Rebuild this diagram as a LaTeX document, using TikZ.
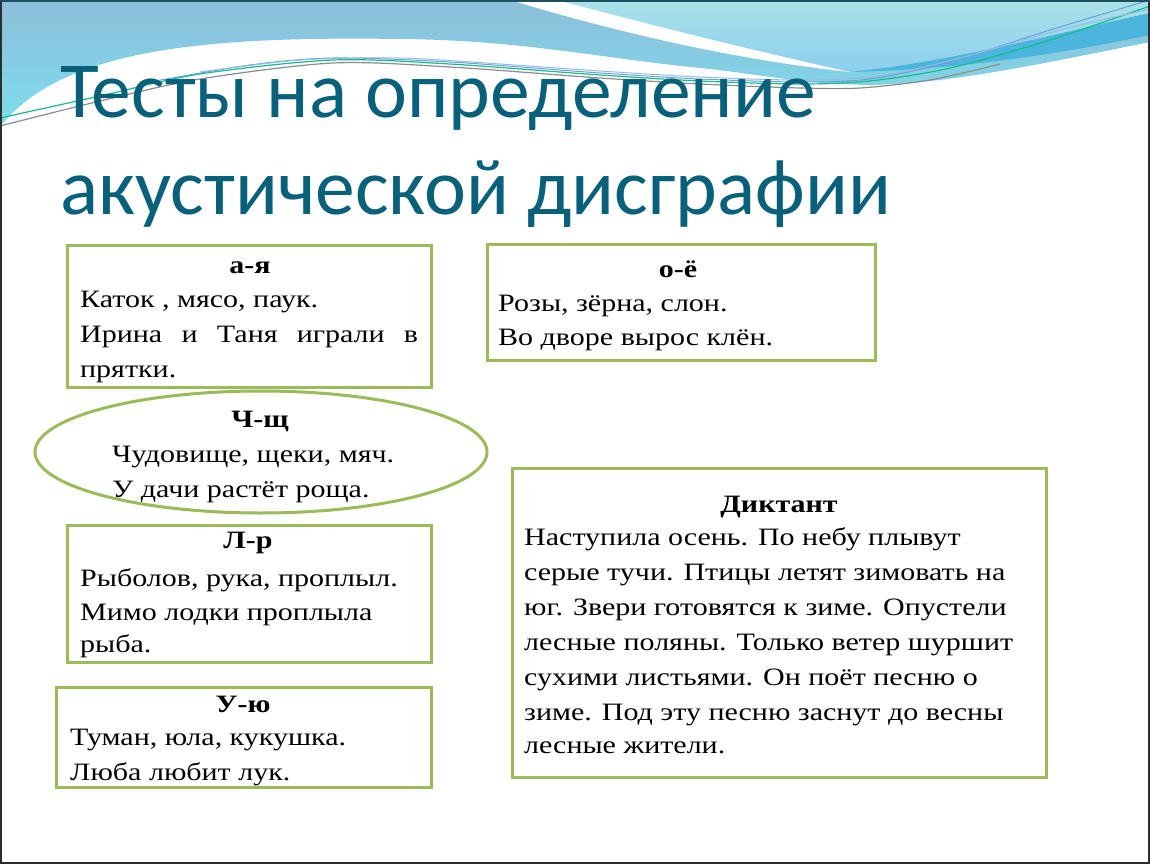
\documentclass[tikz,border=0pt]{standalone}
\usepackage{fontspec}
\usetikzlibrary{shapes.geometric}
\newfontfamily\titlefont{Carlito}
\newfontfamily\bodyfont[FakeStretch=1.2]{Liberation Serif}
\definecolor{boxgreen}{RGB}{155,187,89}
\definecolor{titleteal}{RGB}{8,96,122}
\definecolor{waveblue}{RGB}{140,190,218}
\definecolor{wavecyan}{RGB}{125,222,235}
\definecolor{palecyan}{RGB}{170,226,232}
\definecolor{paleblue}{RGB}{140,206,238}
\definecolor{bandblue}{RGB}{75,181,222}
\definecolor{linegreen}{RGB}{20,190,140}
\definecolor{linegray}{RGB}{140,140,140}
\definecolor{lineblue}{RGB}{40,120,200}
\definecolor{framegray}{RGB}{45,45,45}
\definecolor{frameteal}{RGB}{30,80,96}
\tikzset{
  box/.style={draw=boxgreen, line width=3bp, fill=white, inner sep=0, rectangle},
  oval/.style={draw=boxgreen, line width=3bp, fill=white, inner sep=0, ellipse},
  txt/.style={inner sep=0, anchor=base west, font=\bodyfont\fontsize{25bp}{30bp}\selectfont},
  hdr/.style={inner sep=0, anchor=base, font=\bodyfont\bfseries\fontsize{25bp}{30bp}\selectfont},
  ttl/.style={inner sep=0, anchor=base west, text=titleteal, font=\titlefont\fontsize{79.5bp}{98bp}\selectfont}
}
\begin{document}
\begin{tikzpicture}[x=1bp,y=-1bp]
\useasboundingbox (0,0) rectangle (1150,864);
\fill[white] (0,0) rectangle (1150,864);
% waves
\shade[top color=waveblue, bottom color=wavecyan]
  (0,0) -- (1150,0) -- (1150,42) .. controls (1050,62) and (950,84) .. (870,85)
  .. controls (800,84) and (760,74) .. (700,68)
  .. controls (600,58) and (520,40) .. (400,39)
  .. controls (200,36) and (60,50) .. (0,127) -- cycle;
\shade[top color=palecyan, bottom color=paleblue]
  (557,0) -- (1150,0) -- (1150,13) .. controls (1050,35) and (950,62) .. (850,72)
  .. controls (760,52) and (650,25) .. (557,0) -- cycle;
\fill[bandblue]
  (850,72) .. controls (950,62) and (1050,35) .. (1150,13) -- (1150,35)
  .. controls (1050,56) and (950,70) .. (850,72) -- cycle;
\fill[white]
  (510,0) -- (557,0) .. controls (650,25) and (760,52) .. (850,72)
  .. controls (720,58) and (600,27) .. (510,0) -- cycle;
\draw[linegray, line width=1.2bp] plot[smooth] coordinates {(0,126) (100,101) (200,79) (333,63) (450,67) (600,78) (700,84) (800,88) (860,88) (930,80) (1000,64)};
\draw[linegreen, line width=1.2bp] plot[smooth] coordinates {(0,118) (100,96) (200,74) (333,60) (450,64) (600,75) (700,81) (800,84) (870,81) (950,68) (1050,40) (1150,6)};
\draw[lineblue!70, line width=1bp] plot[smooth] coordinates {(150,82) (250,65) (333,58) (450,62) (600,73) (700,79) (800,82) (870,79) (950,62) (1050,30) (1150,0)};
\draw[lineblue!50, line width=1bp] plot[smooth] coordinates {(200,72) (300,60) (400,58) (500,64) (600,71) (700,77) (800,80) (880,76) (960,58) (1060,30) (1150,9)};
% frame
\draw[framegray, line width=2.5bp] (1,1) rectangle (1149,863);
\draw[frameteal, line width=2.5bp] (0,1) -- (1150,1);
% title
\node[ttl] (t1) at (60,117) {Тесты на определение};
\node[ttl] (t2) at (60,214) {акустической дисграфии};
% box a-ya
\node[box, minimum width=363bp, minimum height=142bp] (b1) at (249.5,316) {};
\node[hdr] (b1h) at (250,273) {а-я};
\node[txt] (b1a) at (80,307) {Каток , мясо, паук.};
\node[txt] (b1b) at (80,342) {\makebox[338bp][s]{Ирина и Таня играли в}};
\node[txt] (b1c) at (80,377) {прятки.};
% ellipse ch-shch
\node[oval, minimum width=452bp, minimum height=122bp] (e1) at (261,452) {};
\node[hdr] (e1h) at (260,427) {Ч-щ};
\node[txt] (e1a) at (112,462) {Чудовище, щеки, мяч.};
\node[txt] (e1b) at (112,497) {У дачи растёт роща.};
% box l-r
\node[box, minimum width=363bp, minimum height=137bp] (b3) at (249.5,593.5) {};
\node[hdr] (b3h) at (248,548) {Л-р};
\node[txt] (b3a) at (80,586) {Рыболов, рука, проплыл.};
\node[txt] (b3b) at (80,620) {Мимо лодки проплыла};
\node[txt] (b3c) at (80,652) {рыба.};
% box u-yu
\node[box, minimum width=374bp, minimum height=100bp] (b4) at (244,737) {};
\node[hdr] (b4h) at (243,712) {У-ю};
\node[txt] (b4a) at (70,745) {Туман, юла, кукушка.};
\node[txt] (b4b) at (70,780) {Люба любит лук.};
% box o-yo
\node[box, minimum width=388bp, minimum height=116bp] (b2) at (681,302) {};
\node[hdr] (b2h) at (678,277) {о-ё};
\node[txt] (b2a) at (498,311) {Розы, зёрна, слон.};
\node[txt] (b2b) at (498,345) {Во дворе вырос клён.};
% box diktant
\node[box, minimum width=534bp, minimum height=309bp] (b5) at (779,622.5) {};
\node[hdr] (b5h) at (779,512) {Диктант};
\node[txt] (b5a) at (524,545) {Наступила осень. По небу плывут};
\node[txt] (b5b) at (524,580) {серые тучи. Птицы летят зимовать на};
\node[txt] (b5c) at (524,615) {юг. Звери готовятся к зиме. Опустели};
\node[txt] (b5d) at (524,650) {лесные поляны. Только ветер шуршит};
\node[txt] (b5e) at (524,685) {сухими листьями. Он поёт песню о};
\node[txt] (b5f) at (524,720) {зиме. Под эту песню заснут до весны};
\node[txt] (b5g) at (524,753) {лесные жители.};
\end{tikzpicture}
\end{document}
